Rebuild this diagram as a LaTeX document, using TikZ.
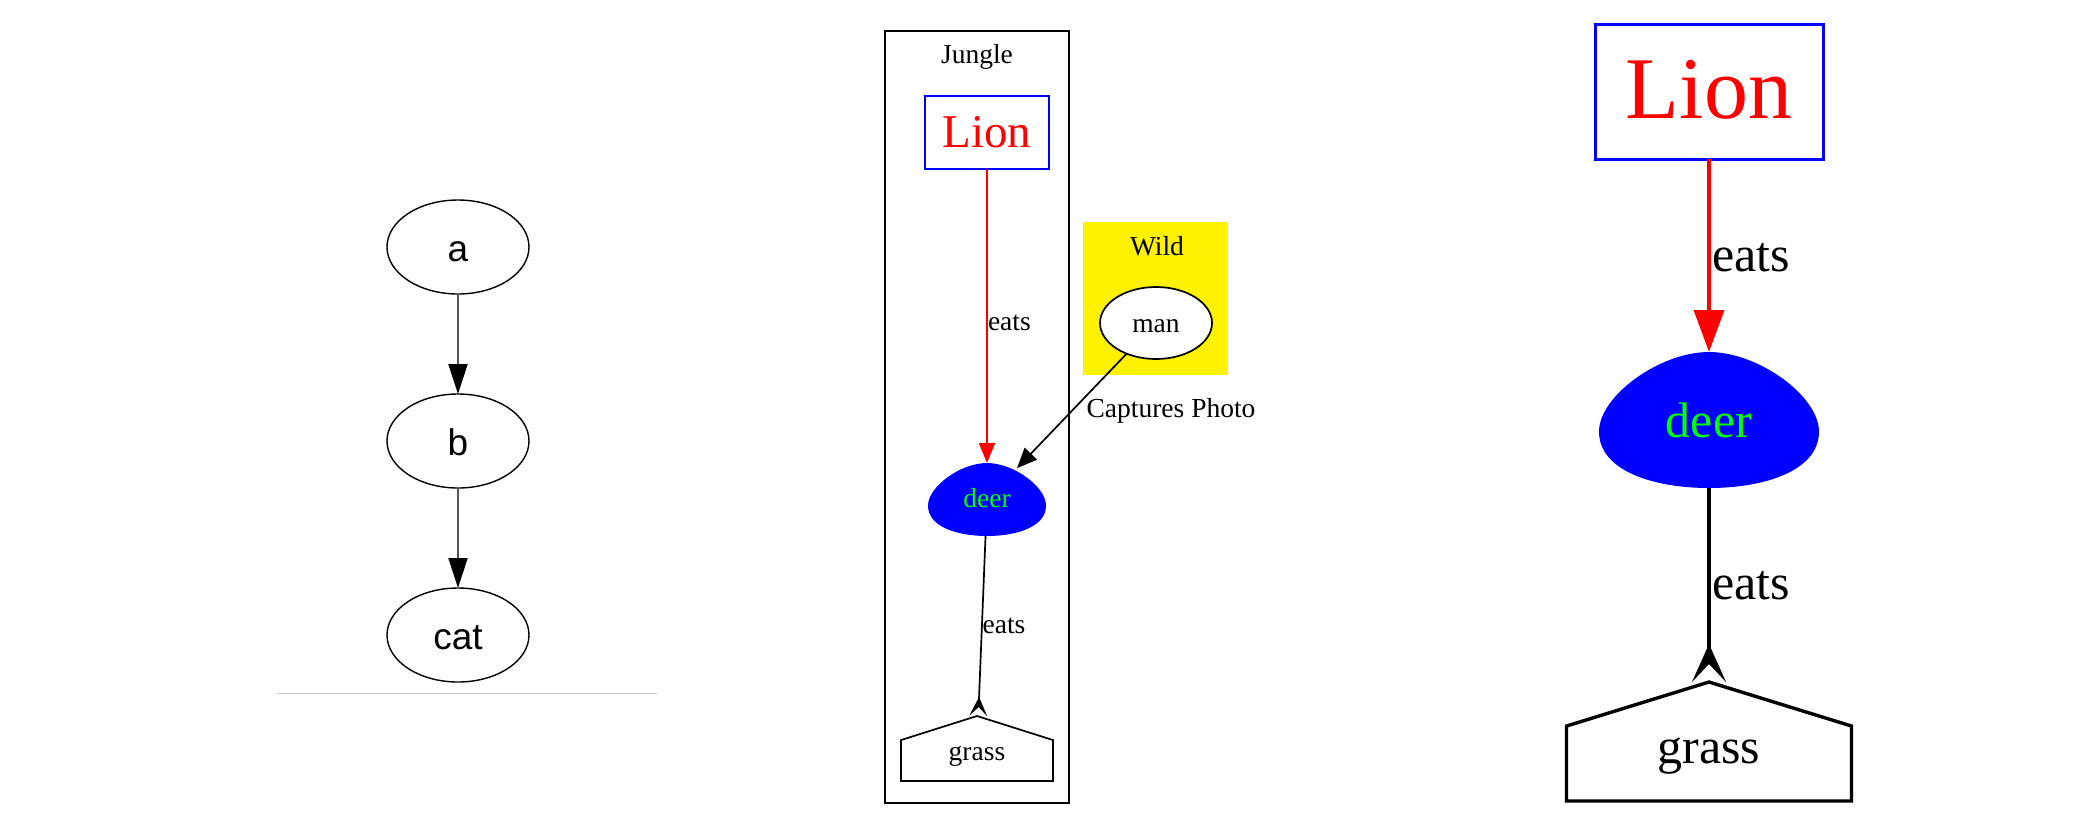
\documentclass[tikz,border=0pt]{standalone}
\usepackage{fontspec}
\setmainfont{Liberation Serif}
\newfontfamily\helvfont{Liberation Sans}
\usetikzlibrary{arrows.meta,calc,shapes.geometric}

\newcommand{\drawegg}[3]{% Parameters: centre, half width, half height
  \fill[blue,shift={(#1)},xscale=#2,yscale=#3] (-1,0.17) .. controls (-1,-0.35) and (-0.45,-1) .. (0,-1)
  .. controls (0.45,-1) and (1,-0.35) .. (1,0.17) .. controls (1,0.75) and (0.5,1) .. (0,1)
  .. controls (-0.5,1) and (-1,0.75) .. (-1,0.17) -- cycle;
}
\newcommand{\drawhouse}[2]{% Parameters: node, line style
  \draw[#2] (#1.south west) -- ($(#1.north west)!0.37!(#1.south west)$) -- (#1.north)
  -- ($(#1.north east)!0.37!(#1.south east)$) -- (#1.south east) -- cycle;
}
\definecolor{edgegrey}{rgb}{0.33,0.33,0.33}
\definecolor{rulegrey}{rgb}{0.8,0.8,0.8}

\tikzset{
  every node/.style={inner sep=0pt,outer sep=0pt},
  plain/.style={ellipse,draw=black,line width=0.7pt,minimum width=71pt,minimum height=47pt,
    font=\helvfont\fontsize{18.5}{22}\selectfont,text height=17pt,text depth=3pt},
  plainedge/.style={draw=edgegrey,line width=1pt,-{Triangle[length=15pt,width=9.5pt,color=black]}},
  title/.style={font=\fontsize{13.75}{16}\selectfont},
  cluster/.style={rectangle,draw=black,line width=1pt,minimum width=92pt,minimum height=386pt},
  wildbox/.style={rectangle,fill=yellow,minimum width=72.5pt,minimum height=76.5pt},
  lionsmall/.style={rectangle,draw=blue,line width=0.7pt,text=red,minimum width=62pt,minimum height=36.5pt,
    font=\fontsize{23.5}{28}\selectfont,text height=20pt,text depth=4.8pt},
  eggsmall/.style={ellipse,minimum width=59pt,minimum height=36.5pt,text=green,
    font=\fontsize{13.75}{16}\selectfont,text height=11pt,text depth=3.5pt},
  housesmall/.style={rectangle,minimum width=76pt,minimum height=32.5pt,
    font=\fontsize{13.75}{16}\selectfont,text height=14pt,text depth=2.5pt},
  person/.style={ellipse,draw=black,fill=white,line width=0.85pt,minimum width=56pt,minimum height=36pt,
    font=\fontsize{13.75}{16}\selectfont,text height=12pt,text depth=3pt},
  edgelabel/.style={anchor=base west,font=\fontsize{13.75}{16}\selectfont},
  lionedgesmall/.style={draw=red,line width=0.85pt,-{Triangle[length=10pt,width=8pt]}},
  photoedge/.style={draw=black,line width=0.85pt,-{Triangle[length=10pt,width=8.5pt]}},
  grassedgesmall/.style={draw=black,line width=0.85pt,-{Stealth[reversed,length=9.5pt,width=9pt,inset=4.5pt]}},
  lionbig/.style={rectangle,draw=blue,line width=1.5pt,text=red,minimum width=114pt,minimum height=67.5pt,
    font=\fontsize{44}{52}\selectfont,text height=34pt,text depth=7.5pt},
  eggbig/.style={ellipse,minimum width=110pt,minimum height=68pt,text=green,
    font=\fontsize{25}{30}\selectfont,text height=22pt,text depth=5pt},
  housebig/.style={rectangle,minimum width=142.5pt,minimum height=59.5pt,
    font=\fontsize{25}{30}\selectfont,text height=26pt,text depth=4.5pt},
  biglabel/.style={anchor=base west,font=\fontsize{25}{30}\selectfont},
  lionedgebig/.style={draw=red,line width=1.75pt,-{Triangle[length=21pt,width=15pt]}},
  grassedgebig/.style={draw=black,line width=1.75pt,-{Stealth[reversed,length=19pt,width=17pt,inset=9pt]}}
}

\begin{document}
\begin{tikzpicture}[x=0.5pt,y=-0.5pt]
  \useasboundingbox (0,0) rectangle (2085,821);
  \node[plain] (a) at (458,247) {a};
  \node[plain] (b) at (458,441) {b};
  \node[plain] (cat) at (458,635) {cat};
  \draw[plainedge] (a) -- (b);
  \draw[plainedge] (b) -- (cat);
  \draw[rulegrey,line width=0.5pt] (277,693) -- (657,693);

  \node[cluster] (jungle) at (977,417) {};
  \node[title,anchor=base] (jungletitle) at ([yshift=-16.15pt]jungle.north) {Jungle};
  \node[wildbox] (wild) at (1155.5,298.5) {};
  \node[title,anchor=base] (wildtitle) at ([xshift=0.75pt,yshift=-16.5pt]wild.north) {Wild};
  \node[lionsmall] (lionM) at (987,132.5) {Lion};
  \coordinate (deerMc) at (987,499.5);
  \drawegg{deerMc}{59}{36.5}
  \node[eggsmall] (deerM) at (deerMc) {deer};
  \node[housesmall] (grassM) at (977,748.5) {grass};
  \drawhouse{grassM}{line width=0.85pt}
  \node[person] (man) at (1156,323) {man};
  \draw[lionedgesmall] (lionM) -- node[edgelabel,pos=0.55,xshift=0.5pt] {eats} (deerM);
  \draw[grassedgesmall] (deerM) -- node[edgelabel,pos=0.54,xshift=0.5pt] {eats} (grassM);
  \draw[photoedge] (man) -- node[edgelabel,pos=0.557,xshift=10.5pt] {Captures Photo} (deerM);

  \node[lionbig] (lionR) at (1709,91.5) {Lion};
  \coordinate (deerRc) at (1709,420);
  \drawegg{deerRc}{110}{68}
  \node[eggbig] (deerR) at (deerRc) {deer};
  \node[housebig] (grassR) at (1709,741.5) {grass};
  \drawhouse{grassR}{line width=1.7pt}
  \draw[lionedgebig] (lionR) -- node[biglabel,pos=0.585,xshift=1.5pt] {eats} (deerR);
  \draw[grassedgebig] (deerR) -- node[biglabel,pos=0.577,xshift=1.5pt] {eats} (grassR);
\end{tikzpicture}
\end{document}
